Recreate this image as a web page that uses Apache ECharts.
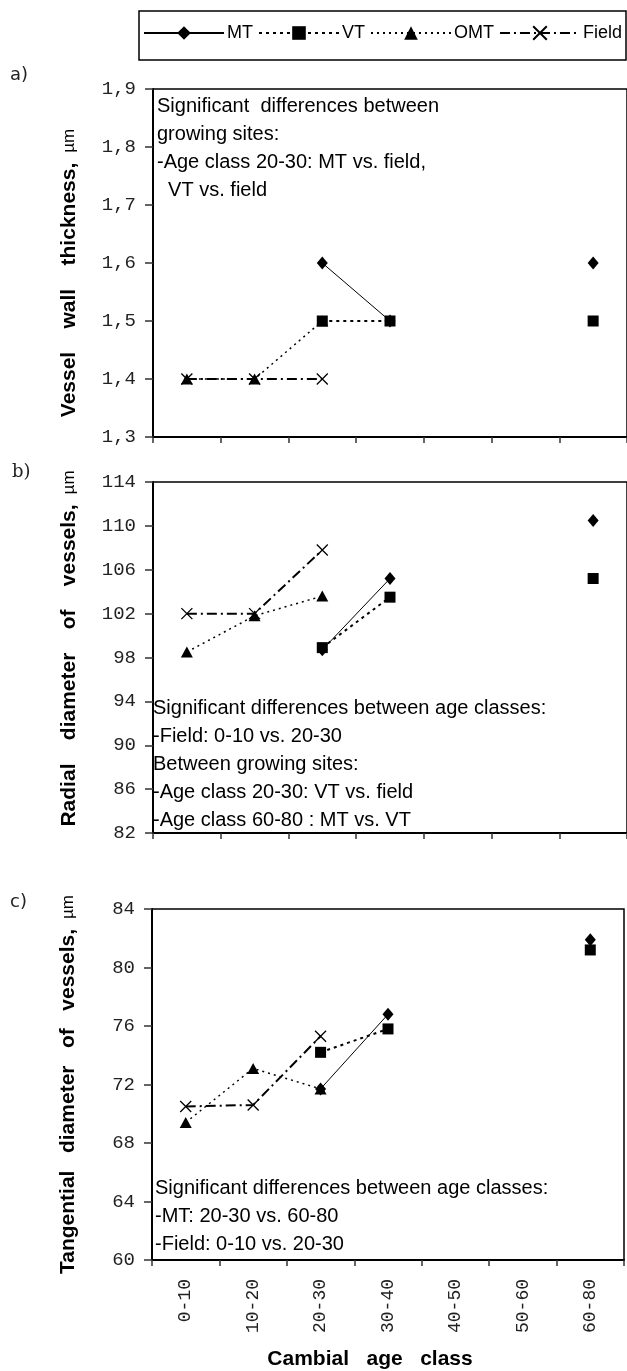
<!DOCTYPE html>
<html>
<head>
<meta charset="utf-8">
<title>Vessel traits by cambial age class</title>
<script src="https://cdn.jsdelivr.net/npm/echarts@6/dist/echarts.min.js"></script>
<style>
  body, html { margin: 0; padding: 0; background: #fff; }
  #main { width: 627px; height: 1371px; }
</style>
</head>
<body>
<div id="main"></div>
<script>
var ageClasses = ['0-10', '10-20', '20-30', '30-40', '40-50', '50-60', '60-80'];
var siteNames = ['MT', 'VT', 'OMT', 'Field'];

// a) vessel wall thickness, um
var wallMT    = [null, null, 1.6, 1.5, null, null, 1.6];
var wallVT    = [null, null, 1.5, 1.5, null, null, 1.5];
var wallOMT   = [1.4, 1.4, 1.5, null, null, null, null];
var wallField = [1.4, 1.4, 1.4, null, null, null, null];
var wallTicks = [1.3, 1.4, 1.5, 1.6, 1.7, 1.8, 1.9];

// b) radial diameter of vessels, um
var radMT    = [null, null, 98.7, 105.2, null, null, 110.5];
var radVT    = [null, null, 98.9, 103.5, null, null, 105.2];
var radOMT   = [98.5, 101.8, 103.6, null, null, null, null];
var radField = [102.0, 102.0, 107.8, null, null, null, null];
var radTicks = [82, 86, 90, 94, 98, 102, 106, 110, 114];

// c) tangential diameter of vessels, um
var tanMT    = [null, null, 71.7, 76.8, null, null, 81.9];
var tanVT    = [null, null, 74.2, 75.8, null, null, 81.2];
var tanOMT   = [69.4, 73.1, 71.7, null, null, null, null];
var tanField = [70.5, 70.6, 75.3, null, null, null, null];
var tanTicks = [60, 64, 68, 72, 76, 80, 84];

var noteA = ['Significant  differences between', 'growing sites:', '-Age class 20-30: MT vs. field,', '  VT vs. field'];
var noteB = ['Significant differences between age classes:', '-Field: 0-10 vs. 20-30', 'Between growing sites:', '-Age class 20-30: VT vs. field', '-Age class 60-80 : MT vs. VT'];
var noteC = ['Significant differences between age classes:', '-MT: 20-30 vs. 60-80', '-Field: 0-10 vs. 20-30'];

var chart = echarts.init(document.getElementById('main'), null, { renderer: 'canvas' });

var monoFont = 'Liberation Mono';
var textFont = 'Liberation Sans';

var look = {
    MT:    { symbol: 'diamond', size: [11, 13], line: { color: '#000', width: 1, type: 'solid' } },
    VT:    { symbol: 'rect', size: 11, line: { color: '#000', width: 2, type: [3, 4] } },
    OMT:   { symbol: 'triangle', size: [12, 11], line: { color: '#000', width: 1.5, type: [2, 4] } },
    Field: { symbol: 'path://M0,0L10,10M10,0L0,10', size: 11, line: { color: '#000', width: 2, type: [10, 4, 2, 4] }, hollow: true }
};

function mkSeries(name, data, idx) {
    var l = look[name];
    return {
        name: name,
        type: 'line',
        xAxisIndex: idx,
        yAxisIndex: idx,
        data: data,
        symbol: l.symbol,
        symbolSize: l.size,
        showSymbol: true,
        showAllSymbol: true,
        connectNulls: false,
        lineStyle: l.line,
        itemStyle: l.hollow ? { color: 'rgba(0,0,0,0)', borderColor: '#000', borderWidth: 1.3 } : { color: '#000', borderWidth: 0 },
        emphasis: { disabled: true },
        silent: true
    };
}

var grids = [
    { left: 153, top: 89, width: 477, height: 348 },
    { left: 153, top: 482, width: 477, height: 351 },
    { left: 152, top: 909, width: 472, height: 352 }
];
grids.forEach(function (g) {
    g.show = true;
    g.borderColor = '#000';
    g.borderWidth = 1.5;
    g.backgroundColor = 'transparent';
});

function mkX(idx, showLabels) {
    var ax = {
        type: 'category',
        gridIndex: idx,
        data: ageClasses,
        boundaryGap: true,
        axisLine: { lineStyle: { color: '#000', width: 2 } },
        axisTick: { show: true, length: 6, alignWithLabel: false, lineStyle: { color: '#333', width: 1.5 } },
        axisLabel: {
            show: showLabels,
            interval: 0,
            rotate: 90,
            margin: 19,
            fontFamily: monoFont,
            fontSize: 18,
            color: '#222'
        },
        splitLine: { show: false }
    };
    if (showLabels) {
        ax.name = '{t|Cambial   age   class}';
        ax.nameLocation = 'middle';
        ax.nameGap = 89;
        ax.nameTextStyle = {
            padding: [0, 36, 0, 0],
            rich: { t: { fontFamily: textFont, fontWeight: 'bold', fontSize: 21, color: '#000' } }
        };
    }
    return ax;
}

function fmtComma(v) {
    return v.toFixed(1).replace('.', ',');
}

function mkY(idx, ticks, step, title, fmt, shift) {
    return {
        type: 'value',
        gridIndex: idx,
        min: ticks[0],
        max: ticks[ticks.length - 1],
        interval: step,
        axisLine: { show: true, lineStyle: { color: '#000', width: 2 } },
        axisTick: { show: true, length: 8, inside: false, lineStyle: { color: '#333', width: 1.5 } },
        axisLabel: {
            margin: 17,
            fontFamily: monoFont,
            fontSize: 19,
            color: '#222',
            formatter: fmt
        },
        splitLine: { show: false },
        name: '{t|' + title + '}   {u|\u00b5m}',
        nameLocation: 'middle',
        nameGap: 73,
        nameTextStyle: {
            padding: shift,
            rich: {
                t: { fontFamily: textFont, fontWeight: 'bold', fontSize: 21, color: '#000' },
                u: { fontFamily: textFont, fontSize: 17, color: '#000' }
            }
        }
    };
}

function noteText(lines, x, y0, gap) {
    return lines.map(function (s, i) {
        return {
            type: 'text',
            left: x,
            top: y0 + i * gap,
            silent: true,
            style: { text: s, fontFamily: textFont, fontSize: 20, fill: '#000' }
        };
    });
}

var graphics = [
    { type: 'rect', shape: { x: 139, y: 11, width: 487, height: 49 }, style: { fill: 'none', stroke: '#000', lineWidth: 1.5 }, silent: true },
    { type: 'text', left: 10, top: 66, style: { text: 'a)', fontFamily: 'DejaVu Sans', fontSize: 18, fill: '#222' } },
    { type: 'text', left: 12, top: 463, style: { text: 'b)', fontFamily: 'DejaVu Serif', fontSize: 18, fill: '#222' } },
    { type: 'text', left: 10, top: 893, style: { text: 'c)', fontFamily: 'DejaVu Sans', fontSize: 18, fill: '#222' } }
].concat(noteText(noteA, 157, 96, 28))
 .concat(noteText(noteB, 153, 698, 28))
 .concat(noteText(noteC, 155, 1178, 28));

var option = {
    animation: false,
    backgroundColor: '#fff',
    legend: {
        data: siteNames,
        left: 143,
        top: 24,
        itemWidth: 80,
        itemHeight: 17,
        itemGap: 5,
        padding: 0,
        textStyle: { fontFamily: textFont, fontSize: 18, color: '#000', padding: [0, 0, 0, -2] },
        selectedMode: false
    },
    grid: grids,
    xAxis: [mkX(0, false), mkX(1, false), mkX(2, true)],
    yAxis: [
        mkY(0, wallTicks, 0.1, 'Vessel    wall    thickness,', fmtComma, [0, 20, 0, 0]),
        mkY(1, radTicks, 4, 'Radial    diameter    of    vessels,', null, [0, 0, 0, 18]),
        mkY(2, tanTicks, 4, 'Tangential   diameter   of   vessels,', null, [0, 0, 0, 0])
    ],
    graphic: graphics,
    series: [
        mkSeries('MT', wallMT, 0), mkSeries('OMT', wallOMT, 0), mkSeries('VT', wallVT, 0), mkSeries('Field', wallField, 0),
        mkSeries('MT', radMT, 1), mkSeries('OMT', radOMT, 1), mkSeries('VT', radVT, 1), mkSeries('Field', radField, 1),
        mkSeries('MT', tanMT, 2), mkSeries('OMT', tanOMT, 2), mkSeries('VT', tanVT, 2), mkSeries('Field', tanField, 2)
    ]
};

chart.setOption(option);
</script>
</body>
</html>
